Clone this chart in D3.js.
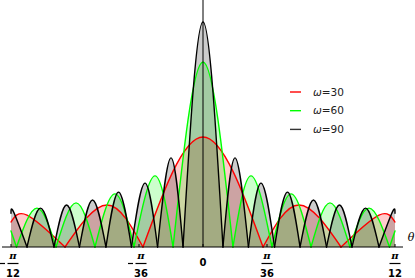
<!DOCTYPE html>
<html>
<head>
<meta charset="utf-8">
<script src="https://cdn.jsdelivr.net/npm/d3@7"></script>
<style>
body { margin: 0; background: #fff; }
svg { display: block; }
text { font-family: "DejaVu Sans", sans-serif; }
</style>
</head>
<body>
<svg id="chart" width="415" height="278"></svg>
<script>
// theta in degrees, amplitude relative to the ω=90 peak
var theta30 = [-15, -13.75, -10.78, -7.5, -4.69, 0, 4.69, 7.5, 10.78, 13.75, 15];
var amp30 = [0.111, 0.142, 0, 0.187, 0, 0.489, 0, 0.187, 0, 0.142, 0.111];

var theta60 = [-15, -14.57, -12.97, -11.48, -9.92, -8.44, -6.88, -5.39, -3.75, -2.34, 0,
	2.34, 3.75, 5.39, 6.88, 8.44, 9.92, 11.48, 12.97, 14.57, 15];
var amp60 = [0.071, 0, 0.173, 0, 0.196, 0, 0.236, 0, 0.316, 0, 0.822,
	0, 0.316, 0, 0.236, 0, 0.196, 0, 0.173, 0, 0.071];

var theta90 = [-15, -14.8, -13.75, -12.7, -11.64, -10.66, -9.65, -8.63, -7.58, -6.6, -5.59, -4.53, -3.55, -2.5, -1.56, 0,
	1.56, 2.5, 3.55, 4.53, 5.59, 6.6, 7.58, 8.63, 9.65, 10.66, 11.64, 12.7, 13.75, 14.8, 15];
var amp90 = [0.15, 0.156, 0, 0.173, 0, 0.187, 0, 0.209, 0, 0.244, 0, 0.284, 0, 0.396, 0, 1,
	0, 0.396, 0, 0.284, 0, 0.244, 0, 0.209, 0, 0.187, 0, 0.173, 0, 0.156, 0.15];

var seriesNames = ["30", "60", "90"];
var seriesColors = ["#ff0000", "#00ff00", "#000000"];
var legendColors = ["#ff0000", "#00ff00", "#333333"];

var tickVals = [-15, -5, 0, 5, 15];
var tickDen = ["12", "36", "", "36", "12"];

var series = [
	{ name: seriesNames[0], theta: theta30, amp: amp30, color: seriesColors[0] },
	{ name: seriesNames[1], theta: theta60, amp: amp60, color: seriesColors[1] },
	{ name: seriesNames[2], theta: theta90, amp: amp90, color: seriesColors[2] }
];

var svg = d3.select("#chart");
var x = d3.scaleLinear().domain([-15, 15]).range([11, 395]);
var y = d3.scaleLinear().domain([0, 1]).range([247, 22]);

// split a curve into lobes between its zeros
const lobes = function (th, amp) {
	var out = [], cur = [];
	th.forEach((t, i) => {
		var p = [t, amp[i]];
		cur.push(p);
		if (p[1] === 0 && cur.length > 1) {
			out.push(cur);
			cur = [p];
		}
	});
	if (cur.length > 1) out.push(cur);
	return out;
};

var area = d3.area().curve(d3.curveNatural)
	.x(d => x(d[0])).y0(y(0)).y1(d => y(d[1]));
var line = d3.line().curve(d3.curveNatural)
	.x(d => x(d[0])).y(d => y(d[1]));

var gFill = svg.append("g");
var gLine = svg.append("g");
var gAxis = svg.append("g");

series.forEach(s => {
	var parts = lobes(s.theta, s.amp);
	gFill.selectAll(null).data(parts).enter().append("path")
		.attr("d", area)
		.attr("fill", s.color)
		.attr("fill-opacity", 0.2);
	gLine.selectAll(null).data(parts).enter().append("path")
		.attr("d", line)
		.attr("fill", "none")
		.attr("stroke", s.color)
		.attr("stroke-width", 1.4)
		.attr("stroke-linecap", "round")
		.attr("stroke-linejoin", "round");
});

// axes
gAxis.append("line")
	.attr("x1", 2).attr("x2", 403)
	.attr("y1", y(0)).attr("y2", y(0))
	.attr("stroke", "#000").attr("stroke-width", 1);
gAxis.append("line")
	.attr("x1", x(0)).attr("x2", x(0))
	.attr("y1", y(0)).attr("y2", y(1.1))
	.attr("stroke", "#000").attr("stroke-width", 1);

gAxis.append("text")
	.attr("x", 411).attr("y", 241)
	.attr("text-anchor", "middle")
	.style("font-family", "'DejaVu Serif', serif")
	.style("font-style", "italic")
	.style("font-size", "11px")
	.text("θ");

var ticks = gAxis.selectAll(".tick").data(tickVals).enter().append("g")
	.attr("class", "tick")
	.attr("transform", d => "translate(" + x(d) + ",0)");

ticks.append("line")
	.attr("y1", y(0)).attr("y2", y(0) - 3)
	.attr("stroke", "#000");

ticks.each(function (d, i) {
	var t = d3.select(this);
	if (tickDen[i] === "") {
		t.append("text").attr("y", 265.5).attr("text-anchor", "middle")
			.style("font-size", "10px").style("font-weight", "bold")
			.text("0");
		return;
	}
	var cx = d < 0 ? 2 : 0;
	if (d < 0) {
		t.append("line").attr("x1", -11).attr("x2", -6)
			.attr("y1", 263.5).attr("y2", 263.5)
			.attr("stroke", "#000").attr("stroke-width", 1.2);
	}
	t.append("text").attr("x", cx).attr("y", 258.5).attr("text-anchor", "middle")
		.style("font-family", "'DejaVu Serif', serif")
		.style("font-style", "italic").style("font-weight", "bold")
		.style("font-size", "10px")
		.text("π");
	t.append("line").attr("x1", cx - 5.5).attr("x2", cx + 5.5)
		.attr("y1", 263.5).attr("y2", 263.5)
		.attr("stroke", "#000").attr("stroke-width", 1.2);
	t.append("text").attr("x", cx).attr("y", 277).attr("text-anchor", "middle")
		.style("font-size", "10px").style("font-weight", "bold")
		.text(tickDen[i]);
});

// legend
var legend = svg.append("g").attr("transform", "translate(290,92)");
var items = legend.selectAll("g").data(series).enter().append("g")
	.attr("transform", (d, i) => "translate(0," + (i * 18.7) + ")");
items.append("line")
	.attr("x1", 0).attr("x2", 11)
	.attr("stroke", (d, i) => legendColors[i])
	.attr("stroke-width", 1.4);
var lt = items.append("text")
	.attr("x", 23).attr("y", 3.5)
	.style("font-size", "10.5px")
	.style("fill", "#222");
lt.append("tspan").style("font-style", "italic").text("ω");
lt.append("tspan").text(d => "=" + d.name);
</script>
</body>
</html>
